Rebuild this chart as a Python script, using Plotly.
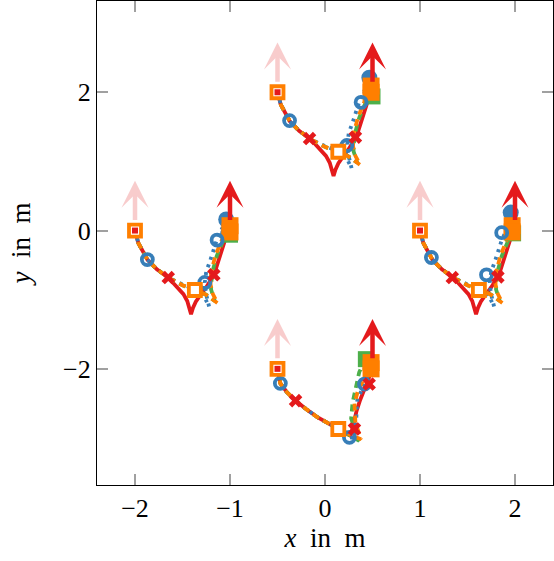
import plotly.graph_objects as go

# group start poses (each group drives from start to start + (1, 0))
START_X = [-2.0, -0.5, 1.0, -0.5]
START_Y = [0.0, 2.0, 0.0, -2.0]
ARROW_LEN = 0.72
SHAPE = [0, 0, 0, 1]  # 0: upper three groups, 1: bottom group

# trajectories relative to the group start
RED_DX = [[0, 0.035, 0.13, 0.23, 0.35, 0.455, 0.51, 0.55, 0.575, 0.59, 0.61, 0.64, 0.68, 0.75, 0.83, 0.89, 0.945, 1.0],
          [0, 0.03, 0.10, 0.19, 0.30, 0.42, 0.55, 0.64, 0.72, 0.77, 0.80, 0.83, 0.87, 0.91, 0.96, 1.0]]
RED_DY = [[0, -0.18, -0.42, -0.56, -0.68, -0.83, -0.92, -1.02, -1.12, -1.21, -1.12, -1.03, -0.95, -0.82, -0.645, -0.40, -0.15, 0.0],
          [0, -0.21, -0.34, -0.46, -0.58, -0.70, -0.80, -0.87, -0.92, -0.97, -0.80, -0.62, -0.45, -0.32, -0.14, 0.0]]

BLUE_DX = [[0, 0.035, 0.13, 0.23, 0.35, 0.50, 0.62, 0.72, 0.78, 0.745, 0.735, 0.75, 0.79, 0.86, 0.96],
           [0, 0.03, 0.10, 0.19, 0.30, 0.42, 0.55, 0.64, 0.757, 0.80, 0.83, 0.84, 0.915, 0.98]]
BLUE_DY = [[0, -0.18, -0.42, -0.56, -0.68, -0.78, -0.84, -0.93, -1.10, -0.90, -0.75, -0.59, -0.44, -0.14, 0.16],
           [0, -0.21, -0.34, -0.46, -0.58, -0.70, -0.80, -0.87, -0.99, -1.00, -0.70, -0.45, -0.22, 0.0]]

GREEN_DX = [[0, 0.035, 0.13, 0.23, 0.35, 0.50, 0.63, 0.74, 0.84, 0.80, 0.81, 0.86, 0.93, 1.0],
            [0, 0.03, 0.10, 0.19, 0.30, 0.42, 0.55, 0.64, 0.75, 0.86, 0.775, 0.79, 0.86, 0.93]]
GREEN_DY = [[0, -0.18, -0.42, -0.56, -0.68, -0.79, -0.86, -0.92, -1.02, -0.85, -0.62, -0.37, -0.14, -0.04],
            [0, -0.21, -0.34, -0.46, -0.58, -0.70, -0.80, -0.87, -0.94, -1.04, -0.72, -0.49, -0.05, 0.16]]

ORANGE_DX = [[0, 0.035, 0.13, 0.23, 0.35, 0.50, 0.63, 0.75, 0.87, 0.82, 0.795, 0.80, 0.85, 0.92, 1.0],
             [0, 0.03, 0.10, 0.19, 0.30, 0.42, 0.55, 0.64, 0.76, 0.88, 0.82, 0.81, 0.85, 0.93, 0.985]]
ORANGE_DY = [[0, -0.18, -0.42, -0.56, -0.68, -0.79, -0.86, -0.93, -1.05, -0.92, -0.78, -0.60, -0.35, -0.12, 0.02],
             [0, -0.21, -0.34, -0.46, -0.58, -0.70, -0.80, -0.87, -0.95, -1.02, -0.78, -0.50, -0.30, -0.10, 0.04]]

# markers relative to the group start, one list per group
BLUE_MK_DX = [[0.13, 0.735, 0.864], [0.127, 0.73, 0.88], [0.12, 0.70, 0.86], [0.03, 0.757, 0.915]]
BLUE_MK_DY = [[-0.42, -0.75, -0.137], [-0.41, -0.77, -0.145], [-0.39, -0.64, -0.03], [-0.21, -0.99, -0.22]]
BLUE_END_DX = [[0.96, 0.98], [0.967, 0.98], [0.955, 0.97], [0.98]]
BLUE_END_DY = [[0.16, -0.05], [0.21, 0.0], [0.26, 0.0], [0.0]]

RED_MK_DX = [[0.35, 0.83], [0.337, 0.82], [0.34, 0.82], [0.19, 0.81, 0.965]]
RED_MK_DY = [[-0.68, -0.64], [-0.67, -0.65], [-0.68, -0.67], [-0.46, -0.87, -0.22]]

ORANGE_MK_DX = [[0.0, 0.63], [0.0, 0.64], [0.0, 0.62], [0.0, 0.64]]
ORANGE_MK_DY = [[0.0, -0.86], [0.0, -0.86], [0.0, -0.86], [0.0, -0.87]]
ORANGE_END_DX = [[1.0, 1.0], [0.985, 0.985], [0.97, 0.97], [0.985, 0.985]]
ORANGE_END_DY = [[0.07, -0.02], [0.09, 0.0], [0.07, -0.02], [0.09, 0.0]]

GREEN_END_DX = [[1.0], [1.0], [0.98], [0.93]]
GREEN_END_DY = [[-0.06], [-0.06], [-0.04], [0.14]]

RED = '#e41a1c'
BLUE = '#377eb8'
GREEN = '#4daf4a'
ORANGE = '#ff7f00'
FONT = 'Liberation Serif'


def shift(dx, dy, g):
    return [START_X[g] + v for v in dx], [START_Y[g] + v for v in dy]


fig = go.Figure()

for g in range(4):
    s = SHAPE[g]
    x, y = shift(RED_DX[s], RED_DY[s], g)
    fig.add_trace(go.Scatter(x=x, y=y, mode='lines', line=dict(color=RED, width=3.8)))
    x, y = shift(BLUE_DX[s], BLUE_DY[s], g)
    fig.add_trace(go.Scatter(x=x, y=y, mode='lines', line=dict(color=BLUE, width=3.8, dash='3px,5px')))
    x, y = shift(GREEN_DX[s], GREEN_DY[s], g)
    fig.add_trace(go.Scatter(x=x, y=y, mode='lines', line=dict(color=GREEN, width=3.8, dash='7px,5px')))
    x, y = shift(ORANGE_DX[s], ORANGE_DY[s], g)
    fig.add_trace(go.Scatter(x=x, y=y, mode='lines', line=dict(color=ORANGE, width=3.8, dash='7px,5px')))

for g in range(4):
    x, y = shift(BLUE_END_DX[g], BLUE_END_DY[g], g)
    fig.add_trace(go.Scatter(x=x, y=y, mode='markers',
                             marker=dict(symbol='circle', size=16, color=BLUE)))
    x, y = shift(GREEN_END_DX[g], GREEN_END_DY[g], g)
    fig.add_trace(go.Scatter(x=x, y=y, mode='markers',
                             marker=dict(symbol='square', size=16, color=GREEN)))
    x, y = shift(ORANGE_END_DX[g], ORANGE_END_DY[g], g)
    fig.add_trace(go.Scatter(x=x, y=y, mode='markers',
                             marker=dict(symbol='square', size=17, color=ORANGE)))
    x, y = shift(BLUE_MK_DX[g], BLUE_MK_DY[g], g)
    fig.add_trace(go.Scatter(x=x, y=y, mode='markers',
                             marker=dict(symbol='circle-open', size=11, color=BLUE,
                                         line=dict(width=3.8, color=BLUE))))
    x, y = shift(ORANGE_MK_DX[g], ORANGE_MK_DY[g], g)
    fig.add_trace(go.Scatter(x=x, y=y, mode='markers',
                             marker=dict(symbol='square', size=12, color='white',
                                         line=dict(width=3.8, color=ORANGE))))
    x, y = shift(RED_MK_DX[g], RED_MK_DY[g], g)
    fig.add_trace(go.Scatter(x=x, y=y, mode='markers',
                             marker=dict(symbol='x', size=12, color=RED, line=dict(width=0))))
    fig.add_trace(go.Scatter(x=[START_X[g]], y=[START_Y[g]], mode='markers',
                             marker=dict(symbol='square', size=6, color=RED)))

    # faded start arrow and solid goal arrow
    for ax, col in ((START_X[g], 'rgba(228,26,28,0.22)'), (START_X[g] + 1, RED)):
        fig.add_annotation(x=ax, y=START_Y[g] + ARROW_LEN, ax=ax, ay=START_Y[g],
                           xref='x', yref='y', axref='x', ayref='y', text='',
                           showarrow=True, arrowhead=3, arrowsize=1.0, arrowwidth=4.5,
                           arrowcolor=col, startstandoff=9)

axis_style = dict(showline=True, linecolor='black', linewidth=1.3, mirror='ticks',
                  ticks='inside', ticklen=11, tickwidth=1.5, tickcolor='#a0a0a0',
                  showgrid=False, zeroline=False, automargin=False,
                  tickfont=dict(family=FONT, size=26, color='black'))

fig.update_layout(
    width=554, height=561,
    margin=dict(l=97, r=1, t=1, b=76),
    plot_bgcolor='white', paper_bgcolor='white',
    showlegend=False,
    xaxis=dict(range=[-2.4, 2.4], tickvals=[-2, -1, 0, 1, 2],
               title=dict(text='<i>x</i>  in  m', standoff=4,
                          font=dict(family=FONT, size=27, color='black')),
               **axis_style),
    yaxis=dict(range=[-3.68, 3.32], tickvals=[-2, 0, 2],
               title=dict(text='<i>y</i>  in  m', standoff=24,
                          font=dict(family=FONT, size=27, color='black')),
               **axis_style),
)

# drop the default page margin so the figure sits at the window origin
fig.write_html('out.html', config={'displayModeBar': False},
               post_script="document.body.style.margin='0';")
